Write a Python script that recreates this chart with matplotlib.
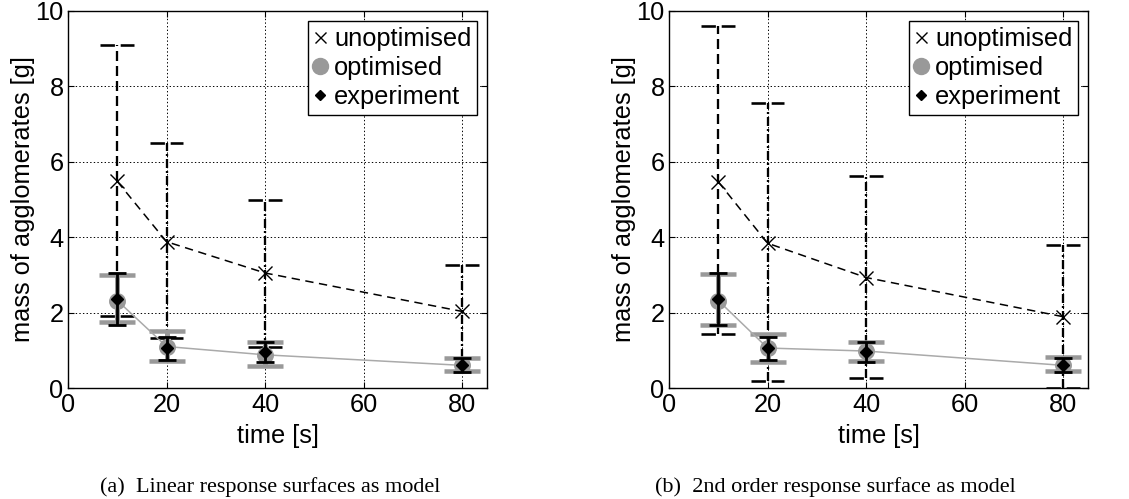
import matplotlib
matplotlib.use('Agg')
import matplotlib.pyplot as plt
from matplotlib.lines import Line2D
import numpy as np

plt.rcParams['font.family'] = ['Liberation Sans', 'DejaVu Sans']
plt.rcParams['lines.scale_dashes'] = False

# ---------------- data ----------------
time_s = [10, 20, 40, 80]
x_ticks = [0, 20, 40, 60, 80]
y_ticks = [0, 2, 4, 6, 8, 10]

# panel (a): linear response surfaces
unopt_a = [5.48, 3.88, 3.05, 2.03]
unopt_a_hi = [9.10, 6.50, 5.00, 3.25]
unopt_a_lo = [1.90, 1.32, 1.10, 0.80]
opt_a = [2.32, 1.10, 0.88, 0.60]
opt_a_hi = [3.00, 1.51, 1.22, 0.80]
opt_a_lo = [1.74, 0.71, 0.58, 0.45]

# panel (b): 2nd order response surface
unopt_b = [5.47, 3.84, 2.93, 1.89]
unopt_b_hi = [9.60, 7.55, 5.63, 3.78]
unopt_b_lo = [1.42, 0.18, 0.27, 0.00]
opt_b = [2.32, 1.06, 0.98, 0.60]
opt_b_hi = [3.03, 1.43, 1.22, 0.81]
opt_b_lo = [1.67, 0.69, 0.72, 0.44]

# experiment (same in both panels)
exp_m = [2.35, 1.07, 0.96, 0.61]
exp_hi = [3.05, 1.36, 1.23, 0.79]
exp_lo = [1.67, 0.74, 0.69, 0.42]

captions = ['(a)  Linear response surfaces as model',
            '(b)  2nd order response surface as model']
legend_labels = ['unoptimised', 'optimised', 'experiment']

# ---------------- style ----------------
PT = 0.72            # points per pixel at dpi 100
GRAY = '#999999'
FS = 18.3
W, H = 1129, 499

fig = plt.figure(figsize=(W / 100, H / 100), dpi=100)
ax_a = fig.add_axes([68 / W, 111 / H, 419 / W, 377 / H])
ax_b = fig.add_axes([669 / W, 111 / H, 419 / W, 377 / H])

dashed = (0, (10 * PT, 5 * PT))
dashdot = (0, (9 * PT, 3 * PT, 2 * PT, 3 * PT))
cap_dash = (0, (14.4 * PT, 5.8 * PT))


def panel(ax, unopt, u_hi, u_lo, opt, o_hi, o_lo):
    ax.set_xlim(0, 85)
    ax.set_ylim(0, 10)
    ax.set_xticks(x_ticks)
    ax.set_yticks(y_ticks)
    ax.grid(True, linestyle=(0, (1, 1.6)), color='black', lw=0.7)
    ax.set_axisbelow(True)
    for s in ax.spines.values():
        s.set_linewidth(1.0)
    ax.tick_params(direction='in', top=True, right=True, length=4,
                   labelsize=FS)
    ax.tick_params(axis='x', pad=3.5)
    ax.tick_params(axis='y', pad=3.2)

    # unoptimised error bars (dashed)
    half = 3.43
    for i, (xi, lo, hi) in enumerate(zip(time_s, u_lo, u_hi)):
        ls = dashed if i == 0 else dashdot
        ax.vlines(xi, lo, hi, colors='black', lw=2.3 * PT, linestyles=[ls], zorder=3)
        ax.hlines([lo, hi], xi - half, xi + half, colors='black', lw=2.6 * PT,
                  linestyles=[cap_dash], zorder=3)

    # optimised: gray bars, line, circles
    o = np.array(opt)
    ax.errorbar(time_s, opt, yerr=[o - np.array(o_lo), np.array(o_hi) - o],
                fmt='none', ecolor=GRAY, elinewidth=5 * PT, capsize=17.8 * PT,
                capthick=4.5 * PT, zorder=4)
    ax.plot(time_s, opt, '-', color='#aaaaaa', lw=1.1, zorder=5)
    ax.plot(time_s, opt, 'o', color=GRAY, ms=15.5 * PT, mec=GRAY, zorder=5)

    # experiment: black bars + diamonds
    e = np.array(exp_m)
    ax.errorbar(time_s, exp_m, yerr=[e - np.array(exp_lo), np.array(exp_hi) - e],
                fmt='none', ecolor='black', elinewidth=2.8 * PT, capsize=8.7 * PT,
                capthick=2.8 * PT, zorder=6)
    ax.plot(time_s, exp_m, 'D', color='black', ms=8.8 * PT, zorder=7)

    # unoptimised line + markers
    ax.plot(time_s, unopt, color='black', lw=1.1, linestyle=(0, (6, 4)), zorder=6)
    ax.plot(time_s, unopt, 'x', color='black', ms=14 * PT, mew=1.0, zorder=7)

    ax.set_xlabel('time [s]', fontsize=FS, labelpad=5)
    ax.set_ylabel('mass of agglomerates [g]', fontsize=FS, labelpad=0.5)

    handles = [
        Line2D([], [], marker='x', ls='none', color='black', ms=11 * PT, mew=1.0),
        Line2D([], [], marker='o', ls='none', color=GRAY, ms=16 * PT),
        Line2D([], [], marker='D', ls='none', color='black', ms=7.6 * PT),
    ]
    leg = ax.legend(handles, legend_labels, loc='upper right', fontsize=FS,
                    frameon=True, fancybox=False, framealpha=1, edgecolor='black',
                    handlelength=0.5, handletextpad=0.3, borderpad=0.23,
                    labelspacing=0.2, borderaxespad=0.38)
    leg.get_frame().set_linewidth(1.0)


panel(ax_a, unopt_a, unopt_a_hi, unopt_a_lo, opt_a, opt_a_hi, opt_a_lo)
panel(ax_b, unopt_b, unopt_b_hi, unopt_b_lo, opt_b, opt_b_hi, opt_b_lo)

fig.text(270 / W, 1 - 487 / H, captions[0], ha='center', va='center',
         fontsize=16, family='Liberation Serif')
fig.text(835 / W, 1 - 487 / H, captions[1], ha='center', va='center',
         fontsize=16, family='Liberation Serif')

fig.savefig('out.png', dpi=100)
